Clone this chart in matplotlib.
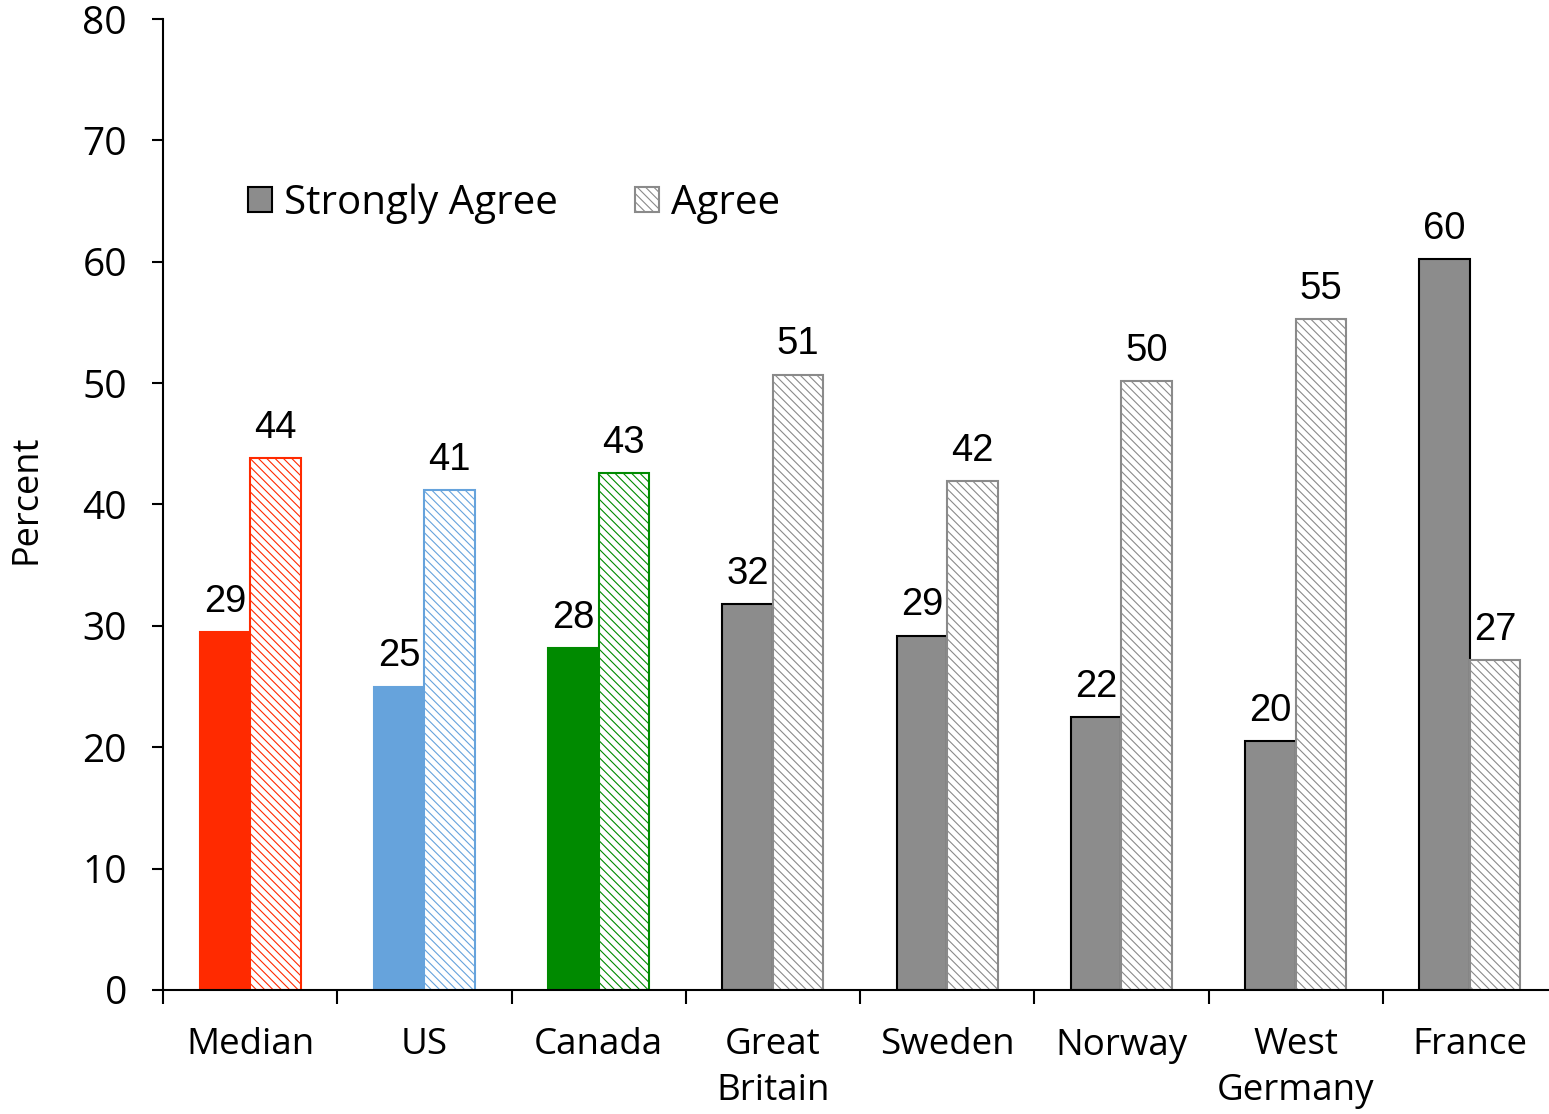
import matplotlib.pyplot as plt
import matplotlib.patches as mpatches
import numpy as np

countries = ['Median', 'US', 'Canada', 'Great\nBritain', 'Sweden', 'Norway', 'West\nGermany', 'France']
strongly_agree = [29.5, 25.0, 28.2, 31.8, 29.2, 22.5, 20.5, 60.2]
agree = [43.8, 41.2, 42.6, 50.7, 41.9, 50.2, 55.3, 27.2]
sa_labels = ['29', '25', '28', '32', '29', '22', '20', '60']
a_labels = ['44', '41', '43', '51', '42', '50', '55', '27']

sa_colors = ['#ff2a00', '#66a3dc', '#008a00'] + ['#8c8c8c'] * 5
sa_edges = ['#ff2a00', '#66a3dc', '#008a00'] + ['#000000'] * 5
a_edges = ['#ff2a00', '#66a3dc', '#008a00'] + ['#8a8a8a'] * 5

plt.rcParams['hatch.linewidth'] = 0.8
plt.rcParams['font.family'] = ['Open Sans', 'DejaVu Sans']

fig = plt.figure(figsize=(15.49, 11.14), dpi=100)
ax = fig.add_axes([163 / 1549, 124 / 1114, 1394 / 1549, 971 / 1114])

x = np.arange(len(countries))
w = 0.29
for i in range(len(countries)):
    ax.bar(x[i] - w / 2, strongly_agree[i], w, color=sa_colors[i],
           edgecolor=sa_edges[i], linewidth=1.5, zorder=2)
    ax.bar(x[i] + w / 2, agree[i], w, color='white', edgecolor=a_edges[i],
           hatch='\\\\\\\\', linewidth=1.5, zorder=2)
    ax.text(x[i] - w / 2, strongly_agree[i] + 1.0, sa_labels[i], ha='center', va='bottom',
            fontsize=27.5, family='Liberation Sans')
    ax.text(x[i] + w / 2, agree[i] + 1.0, a_labels[i], ha='center', va='bottom',
            fontsize=27.5, family='Liberation Sans')

ax.set_xlim(-0.5, 7.5)
ax.set_ylim(0, 80)
ax.set_yticks(range(0, 81, 10))
ax.tick_params(axis='y', labelsize=28, length=8, width=1.5, pad=18)

ax.set_xticks(np.arange(-0.5, 7.6, 1))
ax.set_xticklabels([])
ax.tick_params(axis='x', which='major', length=10, width=1.5, direction='out')
ax.set_xticks(x, minor=True)
ax.set_xticklabels(countries, minor=True, fontsize=26.5, linespacing=1.35)
ax.tick_params(axis='x', which='minor', length=0, pad=27)

for s in ['top', 'right']:
    ax.spines[s].set_visible(False)
for s in ['left', 'bottom']:
    ax.spines[s].set_linewidth(1.5)

ax.set_ylabel('Percent', fontsize=26)
ax.yaxis.set_label_coords(-0.085, 0.505)

h1 = mpatches.Patch(facecolor='#8c8c8c', edgecolor='black', linewidth=1.5, label='Strongly Agree')
h2 = mpatches.Patch(facecolor='white', edgecolor='#8a8a8a', hatch='\\\\\\\\', linewidth=1.5, label='Agree')
ax.legend(handles=[h1, h2], ncol=2, frameon=False, fontsize=29, loc='center left',
          bbox_to_anchor=(0.061, 0.81), borderpad=0, borderaxespad=0,
          handlelength=0.6, handleheight=0.6, handletextpad=0.3, columnspacing=1.9)

fig.savefig('out.png', dpi=100)
